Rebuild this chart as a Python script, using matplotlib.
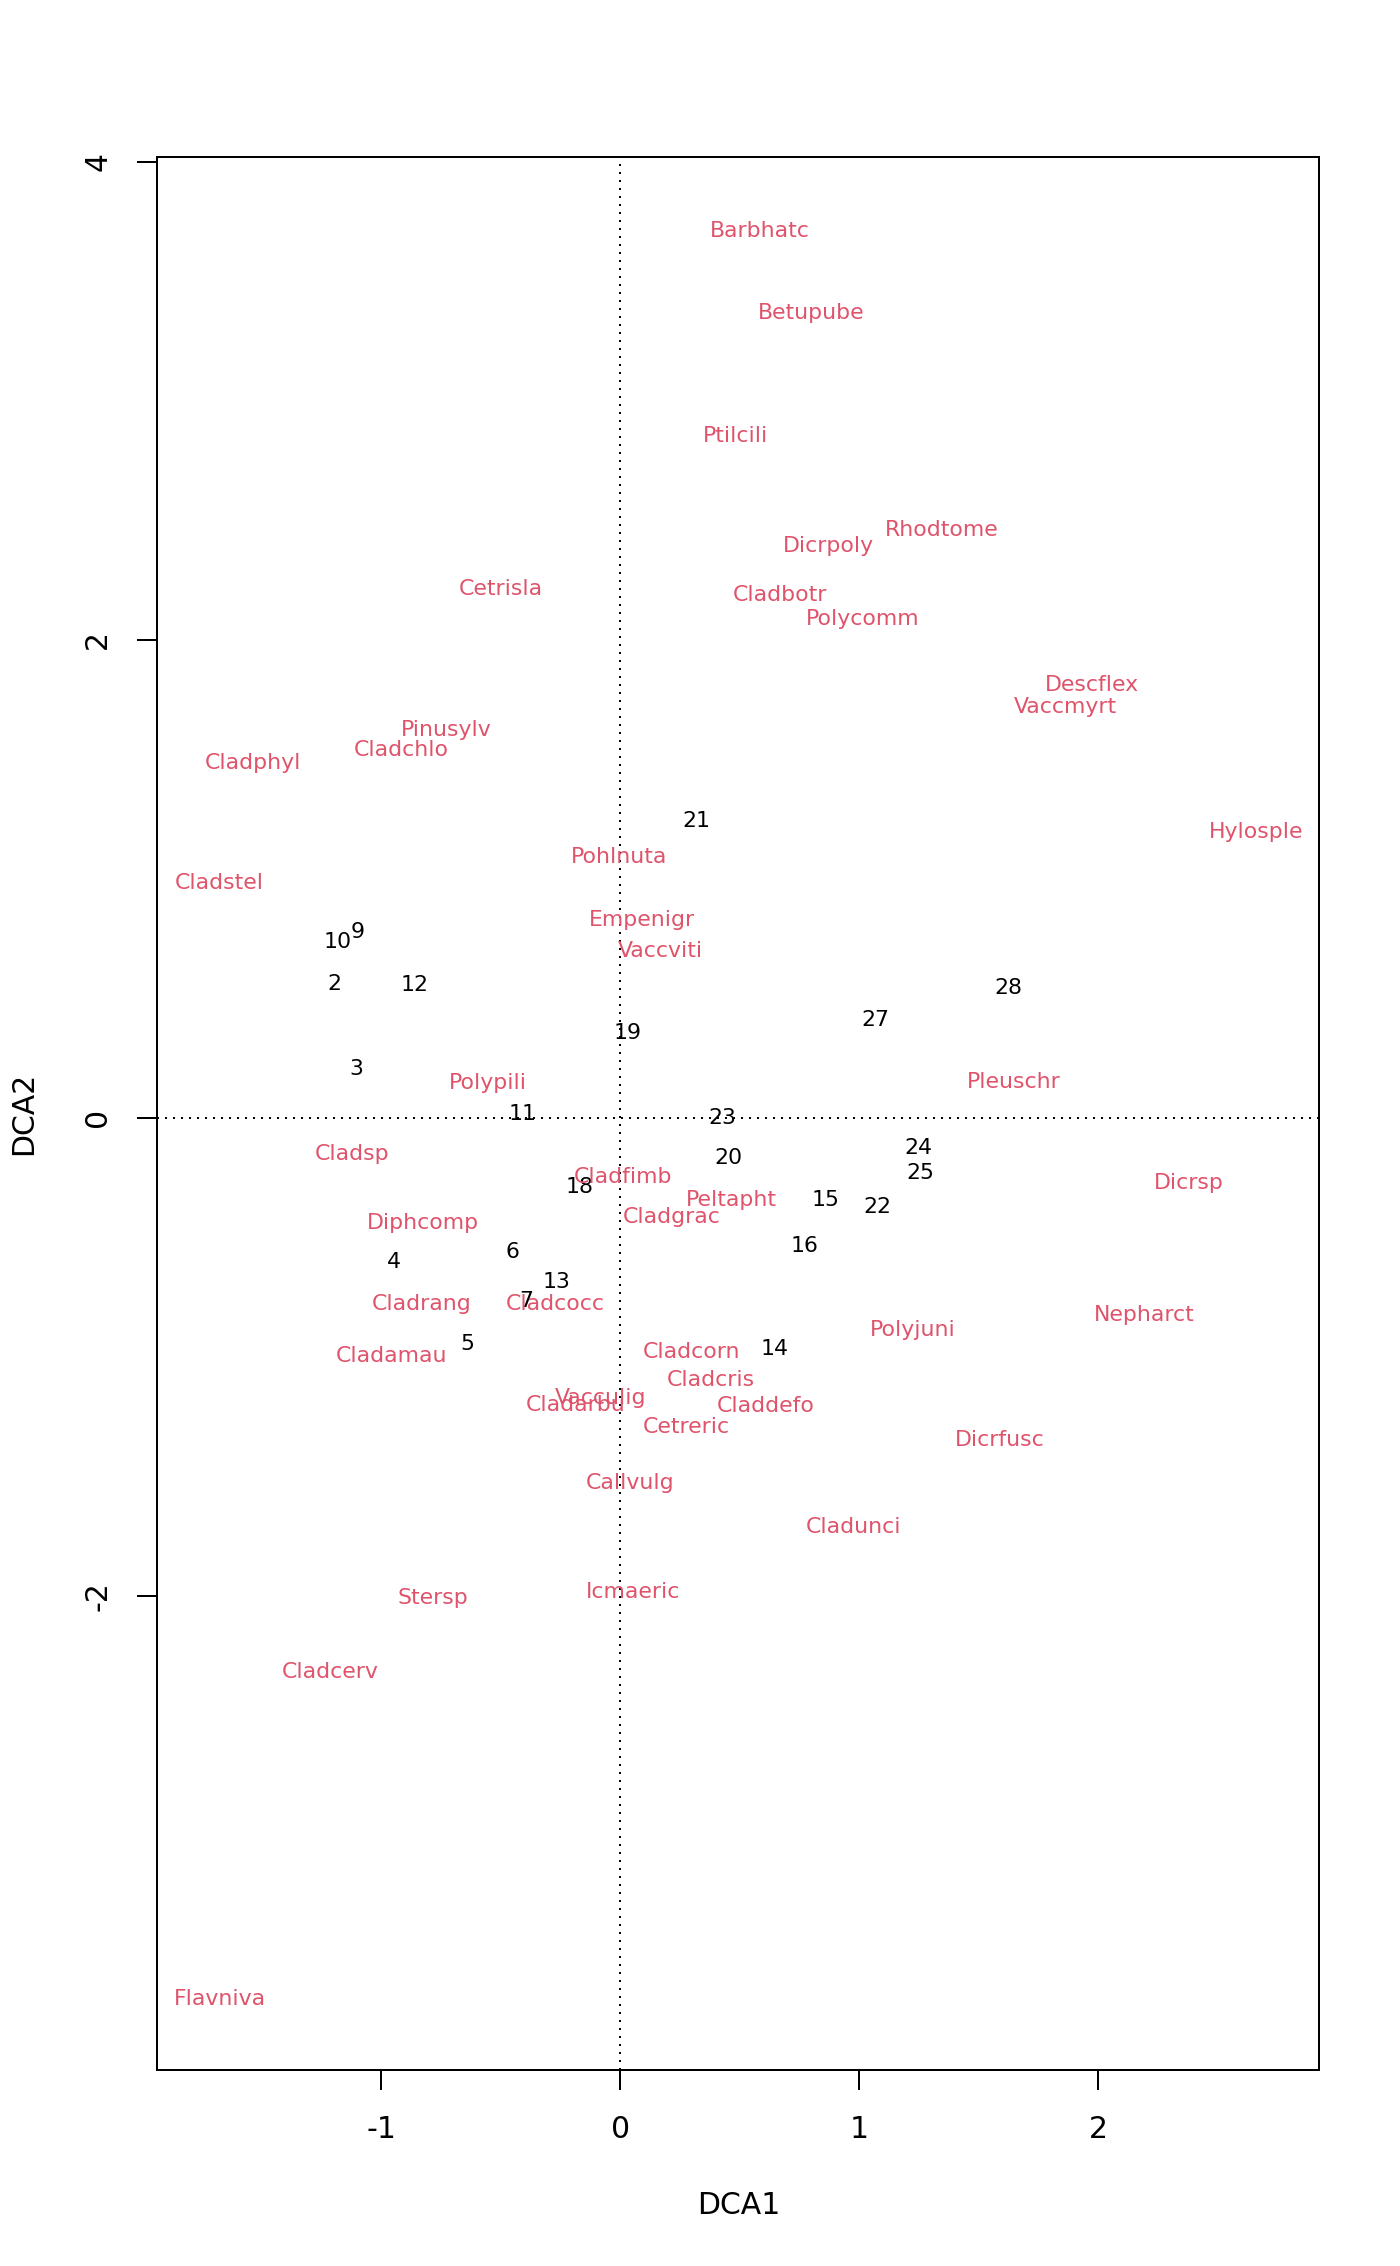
import numpy as np
import matplotlib.pyplot as plt

plt.rcParams["axes.unicode_minus"] = False

# scores des sites (DCA1, DCA2)
sites = ["21", "10", "9", "2", "12", "28", "27", "19", "3", "11", "23", "24",
         "20", "25", "18", "15", "22", "16", "6", "4", "13", "7", "5", "14"]
site_x = [0.320, -1.183, -1.098, -1.195, -0.863, 1.623, 1.068, 0.030, -1.104,
          -0.410, 0.428, 1.249, 0.453, 1.255, -0.169, 0.857, 1.074, 0.772,
          -0.453, -0.948, -0.266, -0.392, -0.640, 0.646]
site_y = [1.242, 0.736, 0.778, 0.561, 0.555, 0.543, 0.410, 0.356, 0.205,
          0.018, 0.000, -0.127, -0.169, -0.229, -0.290, -0.344, -0.374, -0.537,
          -0.561, -0.603, -0.688, -0.766, -0.947, -0.965]

# scores des especes
species = ["Barbhatc", "Betupube", "Ptilcili", "Rhodtome", "Dicrpoly", "Cetrisla",
           "Cladbotr", "Polycomm", "Descflex", "Vaccmyrt", "Pinusylv", "Cladchlo",
           "Cladphyl", "Hylosple", "Pohlnuta", "Cladstel", "Empenigr", "Vaccviti",
           "Polypili", "Pleuschr", "Cladsp", "Cladfimb", "Dicrsp", "Peltapht",
           "Cladgrac", "Diphcomp", "Cladrang", "Cladcocc", "Nepharct", "Polyjuni",
           "Cladamau", "Cladcorn", "Cladcris", "Vacculig", "Cladarbu", "Claddefo",
           "Cetreric", "Dicrfusc", "Callvulg", "Cladunci", "Icmaeric", "Stersp",
           "Cladcerv", "Flavniva"]
spec_x = [0.585, 0.797, 0.483, 1.346, 0.869, -0.501, 0.670, 1.014, 1.973, 1.865,
          -0.730, -0.917, -1.539, 2.661, -0.006, -1.678, 0.091, 0.169, -0.555,
          1.648, -1.122, 0.012, 2.378, 0.465, 0.217, -0.827, -0.833, -0.272,
          2.191, 1.225, -0.960, 0.296, 0.380, -0.084, -0.187, 0.610, 0.278,
          1.587, 0.042, 0.978, 0.054, -0.785, -1.213, -1.678]
spec_y = [3.708, 3.365, 2.853, 2.461, 2.394, 2.213, 2.189, 2.087, 1.809, 1.719,
          1.622, 1.538, 1.484, 1.194, 1.092, 0.983, 0.826, 0.700, 0.145, 0.151,
          -0.151, -0.247, -0.271, -0.344, -0.416, -0.440, -0.778, -0.778, -0.826,
          -0.887, -0.995, -0.977, -1.098, -1.170, -1.200, -1.206, -1.291, -1.345,
          -1.526, -1.713, -1.984, -2.008, -2.316, -3.685]

rouge = "#DF536B"
lw = 1.44

fig = plt.figure(figsize=(14, 22.66), dpi=100)
ax = fig.add_axes([0.1124, 0.0865, 0.83, 0.8441])

ax.axhline(0, color="black", lw=lw, linestyle=(0, (1, 3)), dash_capstyle="butt")
ax.axvline(0, color="black", lw=lw, linestyle=(0, (1, 3)), dash_capstyle="butt")

for lab, x, y in zip(sites, site_x, site_y):
    ax.text(x, y, lab, ha="center", va="center", fontsize=15.8, color="black")
for lab, x, y in zip(species, spec_x, spec_y):
    ax.text(x, y, lab, ha="center", va="center", fontsize=15.8, color=rouge)

ax.set_xlim(-1.938, 2.926)
ax.set_ylim(-3.982, 4.018)
ax.set_xticks([-1, 0, 1, 2])
ax.set_yticks([-2, 0, 2, 4])
ax.tick_params(length=14.4, width=lw, labelsize=21.5, pad=18)
for t in ax.get_yticklabels():
    t.set_rotation(90)
    t.set_va("center")
for s in ax.spines.values():
    s.set_linewidth(lw)

ax.set_xlabel("DCA1", fontsize=21.5, va="center")
ax.set_ylabel("DCA2", fontsize=21.5, va="center")
ax.xaxis.set_label_coords(0.5, -0.0706)
ax.yaxis.set_label_coords(-0.1147, 0.5)

plt.savefig("out.png", dpi=100)
